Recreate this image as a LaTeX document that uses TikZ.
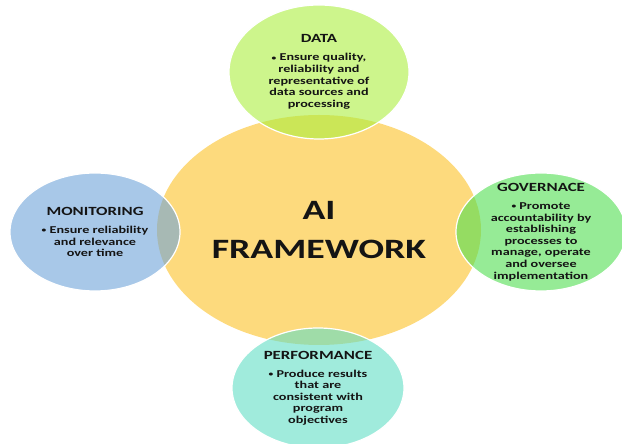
\documentclass[tikz,border=0pt]{standalone}
\usepackage{fontspec}
\setmainfont{Carlito}[FakeStretch=1.35]
\usetikzlibrary{shapes.geometric}

\definecolor{framec}{RGB}{253,218,125}
\definecolor{datac}{RGB}{171,238,63}
\definecolor{monc}{RGB}{110,163,217}
\definecolor{govc}{RGB}{80,222,80}
\definecolor{perfc}{RGB}{97,222,197}
\definecolor{ink}{RGB}{20,20,20}

\tikzset{
  bubble/.style={ellipse, draw=white, line width=1.2pt, fill opacity=0.6, inner sep=0pt},
  body/.style={align=center, text=ink, font=\bfseries\fontsize{10.5}{11.6}\selectfont},
}
\newcommand{\headline}[1]{{\fontsize{12.5}{14}\selectfont #1}\\[6.4pt]}
\newcommand{\bulletmark}{{\fontsize{7}{7}\selectfont\raisebox{0.6pt}{\textbullet}}\ }

\begin{document}
\begin{tikzpicture}[x=1pt,y=1pt]
  \useasboundingbox (0,0) rectangle (622,444);
  % Mitten
  \node[ellipse, fill=framec, minimum width=324pt, minimum height=230pt] (core) at (319,214) {};
  % Delarna runt om
  \node[bubble, fill=datac, minimum width=180pt, minimum height=134pt] (data) at (319,372) {};
  \node[bubble, fill=monc, minimum width=170pt, minimum height=118pt] (mon) at (95,212) {};
  \node[bubble, fill=govc, minimum width=170pt, minimum height=118pt] (gov) at (541,212) {};
  \node[bubble, fill=perfc, minimum width=172pt, minimum height=120pt] (perf) at (318,56) {};
  % Texter
  \node[align=center, text=ink, font=\bfseries\fontsize{28}{39}\selectfont] (coretxt) at (core) {AI\\FRAMEWORK};
  \node[body] (datatxt) at (data) {\headline{DATA}\bulletmark Ensure quality,\\reliability and\\representative of\\data sources and\\processing};
  \node[body] (montxt) at (mon) {\headline{MONITORING}\bulletmark Ensure reliability\\and relevance\\over time};
  \node[body] (govtxt) at (gov) {\headline{GOVERNACE}\bulletmark Promote\\accountability by\\establishing\\processes to\\manage, operate\\and oversee\\implementation};
  \node[body] (perftxt) at (perf) {\headline{PERFORMANCE}\bulletmark Produce results\\that are\\consistent with\\program\\objectives};
\end{tikzpicture}
\end{document}
